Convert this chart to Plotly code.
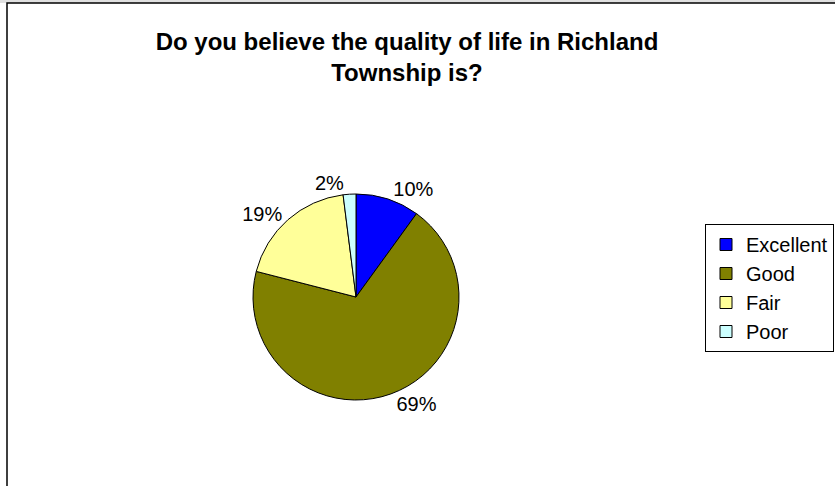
import plotly.graph_objects as go

# Survey responses (percent of respondents)
categories = ["Excellent", "Good", "Fair", "Poor"]
shares = [10, 69, 19, 2]
slice_colors = ["#0000FF", "#808000", "#FFFF99", "#CCFFFF"]

W, H = 835, 486
cx, cy, r = 356, 297, 103  # pie centre and radius in pixels

fig = go.Figure(
    go.Pie(
        labels=categories,
        values=shares,
        sort=False,
        direction="clockwise",
        rotation=0,
        marker=dict(colors=slice_colors, line=dict(color="black", width=1)),
        texttemplate="%{value}%",
        textposition="outside",
        textfont=dict(family="Liberation Sans, Arial", size=20, color="black"),
        domain=dict(x=[(cx - r) / W, (cx + r) / W],
                    y=[(H - cy - r) / H, (H - cy + r) / H]),
        hoverinfo="label+percent",
    )
)

fig.update_layout(
    width=W,
    height=H,
    margin=dict(l=0, r=0, t=0, b=0),
    paper_bgcolor="white",
    plot_bgcolor="white",
    font=dict(family="Liberation Sans, Arial", color="black"),
    title=dict(
        text="<b>Do you believe the quality of life in Richland<br>Township is?</b>",
        x=407 / W,
        xanchor="center",
        y=1 - 50 / H,
        yanchor="top",
        font=dict(size=24, family="Liberation Sans, Arial", color="black"),
    ),
    legend=dict(
        x=705 / W,
        xanchor="left",
        y=1 - 224 / H,
        yanchor="top",
        bordercolor="black",
        borderwidth=1,
        bgcolor="white",
        font=dict(size=20, family="Liberation Sans, Arial", color="black"),
        itemwidth=30,
    ),
    showlegend=True,
    shapes=[
        dict(type="rect", xref="paper", yref="paper",
             x0=0, x1=1, y0=1 - 3 / H, y1=1,
             fillcolor="#E0E0E0", line=dict(width=0), layer="below"),
        dict(type="rect", xref="paper", yref="paper",
             x0=7 / W, x1=1.2, y0=-0.2, y1=1 - 3 / H,
             line=dict(color="black", width=1.5), fillcolor="rgba(0,0,0,0)"),
    ],
)

fig.write_html("out.html")
